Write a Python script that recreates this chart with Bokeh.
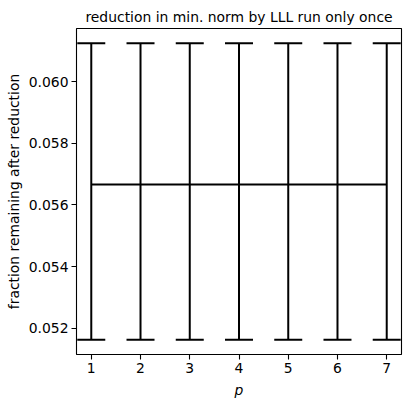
from bokeh.plotting import figure
from bokeh.models import ColumnDataSource, Whisker, TeeHead, FixedTicker, PrintfTickFormatter, Range1d
from bokeh.embed import file_html
from bokeh.resources import INLINE

p_vals = [1, 2, 3, 4, 5, 6, 7]
mean_vals = [0.05666, 0.05666, 0.05666, 0.05666, 0.05666, 0.05666, 0.05666]
lower_vals = [0.05163, 0.05163, 0.05163, 0.05163, 0.05163, 0.05163, 0.05163]
upper_vals = [0.06124, 0.06124, 0.06124, 0.06124, 0.06124, 0.06124, 0.06124]
y_ticks = [0.052, 0.054, 0.056, 0.058, 0.060]

src = ColumnDataSource(dict(p=p_vals, mean=mean_vals, lower=lower_vals, upper=upper_vals))

p = figure(width=403, height=400, output_backend="svg", toolbar_location=None,
           x_range=Range1d(0.7, 7.3), y_range=Range1d(0.05115, 0.06172),
           title="reduction in min. norm by LLL run only once",
           min_border_left=76, min_border_right=2, min_border_top=28, min_border_bottom=43)

p.title.text_font = "DejaVu Sans"
p.title.text_font_size = "13.9px"
p.title.text_font_style = "normal"
p.title.text_color = "black"
p.title.align = "center"
p.title.standoff = 7

p.line("p", "mean", source=src, line_color="black", line_width=2)
w = Whisker(base="p", upper="upper", lower="lower", source=src, dimension="height",
            line_color="black", line_width=2,
            upper_head=TeeHead(size=28, line_color="black", line_width=2),
            lower_head=TeeHead(size=28, line_color="black", line_width=2))
p.add_layout(w)

p.xgrid.visible = False
p.ygrid.visible = False
p.outline_line_color = "black"
p.outline_line_width = 1.1

p.xaxis.ticker = FixedTicker(ticks=p_vals)
p.yaxis.ticker = FixedTicker(ticks=y_ticks)
p.yaxis.formatter = PrintfTickFormatter(format="%.3f")
p.xaxis.axis_label = "p"
p.yaxis.axis_label = "fraction remaining after reduction"
for ax in (p.xaxis[0], p.yaxis[0]):
    ax.axis_line_color = None
    ax.major_tick_line_color = "black"
    ax.major_tick_line_width = 1.1
    ax.major_tick_out = 5
    ax.major_tick_in = 0
    ax.minor_tick_line_color = None
    ax.major_label_text_font = "DejaVu Sans"
    ax.major_label_text_font_size = "13.9px"
    ax.major_label_text_color = "black"
    ax.axis_label_text_font = "DejaVu Sans"
    ax.axis_label_text_font_size = "13.9px"
    ax.axis_label_text_font_style = "normal"
    ax.axis_label_text_color = "black"
    ax.major_label_standoff = 3
    ax.axis_label_standoff = 6
p.yaxis.axis_label_standoff = 4
p.xaxis.axis_label_text_font_style = "italic"

open("out.html", "w").write(file_html(p, INLINE))
